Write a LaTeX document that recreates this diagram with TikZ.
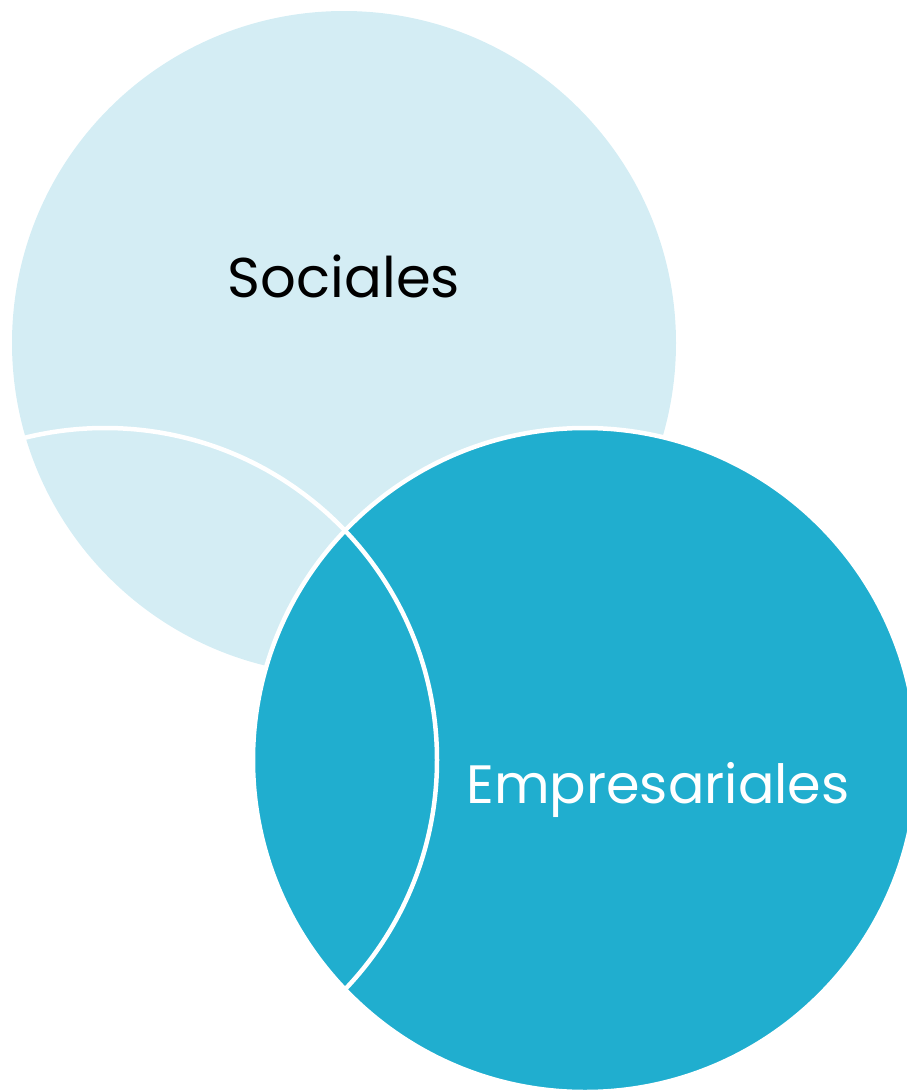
\documentclass[tikz,border=0pt]{standalone}
\usepackage{fontspec}
\setmainfont{Poppins}
\usetikzlibrary{positioning}
\definecolor{paleblue}{HTML}{D4EDF4}
\definecolor{deepblue}{HTML}{20AECF}
\tikzset{label text/.style={font=\fontsize{56}{62}\selectfont, anchor=base, inner sep=0pt}}

\begin{document}
\begin{tikzpicture}[x=1pt,y=-1pt]
\useasboundingbox (0,0) rectangle (907,1090);
\clip (0,0) rectangle (907,1090);
\fill[color=paleblue](344,343) circle (332pt);
\draw[line width=4.5, color=white, fill=deepblue](585,760) circle (332pt);
\draw[line width=4.5, color=white](105,760) circle (332pt);
\node[label text] (sociales) at (344,297) {Sociales};
\node[label text, font=\fontsize{54}{60}\selectfont, text=white] (empresariales) at (658,803) {Empresariales};
\end{tikzpicture}
\end{document}
